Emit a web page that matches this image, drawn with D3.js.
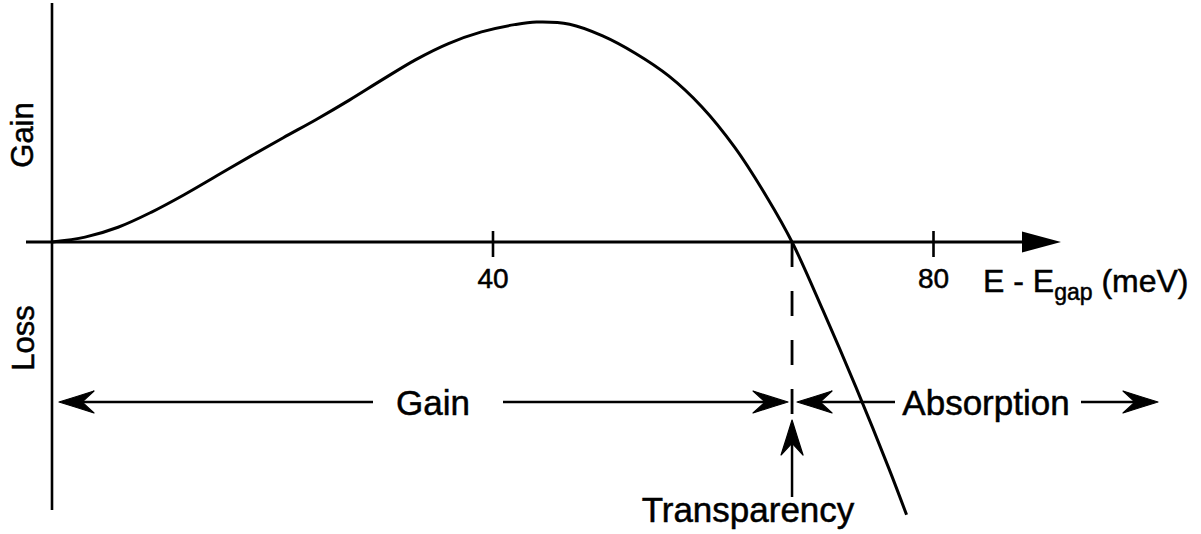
<!DOCTYPE html>
<html>
<head>
<meta charset="utf-8">
<script src="https://cdn.jsdelivr.net/npm/d3@7"></script>
<style>
  html, body { margin: 0; padding: 0; background: #fff; }
  svg { display: block; }
  text { font-family: "Liberation Sans", Arial, Helvetica, sans-serif; fill: #000; stroke: #000; stroke-width: 0.5px; }
</style>
</head>
<body>
<svg id="chart" width="1201" height="534"></svg>
<script>
// Gain spectrum vs photon energy above the band gap (arbitrary gain units, peak = 1)
const energy = [0, 3, 6, 9, 12, 15, 18, 21, 24, 27, 30, 33, 36, 39, 42, 44, 47, 50, 53, 56, 59, 62, 65, 67.2, 70, 73, 76, 77.6];
const gain   = [0, 0.022, 0.067, 0.135, 0.215, 0.302, 0.389, 0.474, 0.557, 0.645, 0.738, 0.828, 0.902, 0.955, 0.988, 1.0, 0.99, 0.937, 0.857, 0.755, 0.615, 0.43, 0.197, 0, -0.31, -0.66, -1.03, -1.24];
const tickValues = [40, 80];
const tickLabels = ["40", "80"];
const transparencyEnergy = 67.2;
const sideLabels = ["Gain", "Loss"];
const regionLabels = ["Gain", "Absorption", "Transparency"];

const svg = d3.select("#chart");
const x = d3.scaleLinear().domain([0, 80]).range([52, 933]);
const y = d3.scaleLinear().domain([0, 1]).range([242, 22]);

const ink = "#000";

// Vertical axis
svg.append("line")
  .attr("x1", x(0)).attr("x2", x(0))
  .attr("y1", 3).attr("y2", 510)
  .attr("stroke", ink).attr("stroke-width", 2.6);

// Horizontal axis with filled arrow head
const axisEnd = 1061;
svg.append("line")
  .attr("x1", 26).attr("x2", axisEnd - 30)
  .attr("y1", y(0)).attr("y2", y(0))
  .attr("stroke", ink).attr("stroke-width", 2.8);
svg.append("path")
  .attr("d", `M${axisEnd},${y(0)} L${axisEnd - 39},${y(0) - 10.5} L${axisEnd - 39},${y(0) + 10.5} Z`)
  .attr("fill", ink);

// Tick marks and labels
const xAxis = d3.axisBottom(x)
  .tickValues(tickValues)
  .tickFormat((d, i) => tickLabels[i])
  .tickSizeInner(15)
  .tickSizeOuter(0)
  .tickPadding(20);
const gAxis = svg.append("g").attr("transform", `translate(0,${y(0)})`).call(xAxis);
gAxis.select(".domain").remove();
gAxis.selectAll(".tick line")
  .attr("y1", -11)
  .attr("stroke", ink).attr("stroke-width", 2.6);
gAxis.selectAll(".tick text")
  .attr("font-size", 28)
  .attr("dy", null)
  .attr("y", 46)
  .attr("fill", ink)
  .style("font-family", "'Liberation Sans', Arial, Helvetica, sans-serif");

// Axis title: E - E_gap (meV)
const title = svg.append("text")
  .attr("x", 983).attr("y", 292)
  .attr("font-size", 32);
title.append("tspan").text("E - E");
title.append("tspan").attr("font-size", 23).attr("dy", 8).text("gap");
title.append("tspan").attr("dy", -8).text(" (meV)");

// Side labels
svg.append("text")
  .attr("transform", "translate(33,135) rotate(-90)")
  .attr("text-anchor", "middle").attr("font-size", 31)
  .text(sideLabels[0]);
svg.append("text")
  .attr("transform", "translate(34,338) rotate(-90)")
  .attr("text-anchor", "middle").attr("font-size", 31)
  .text(sideLabels[1]);

// Gain curve
const line = d3.line()
  .x((d, i) => x(energy[i]))
  .y((d, i) => y(gain[i]))
  .curve(d3.curveCatmullRom.alpha(0.5));
svg.append("path")
  .datum(energy)
  .attr("d", line)
  .attr("fill", "none")
  .attr("stroke", ink)
  .attr("stroke-width", 3)
  .attr("stroke-linejoin", "round");

// Transparency marker (dashed)
const xt = x(transparencyEnergy);
svg.append("line")
  .attr("x1", xt).attr("x2", xt)
  .attr("y1", y(0)).attr("y2", 414)
  .attr("stroke", ink).attr("stroke-width", 2.8)
  .attr("stroke-dasharray", "25,24");

// Barbed arrow head, drawn pointing along +x with its tip at the origin
const headPath = "M0,0 Q-18,-5.5 -35,-11 L-23,0 L-35,11 Q-18,5.5 0,0 Z";
function arrowHead(px, py, angle) {
  svg.append("path")
    .attr("d", headPath)
    .attr("transform", `translate(${px},${py}) rotate(${angle})`)
    .attr("fill", ink)
    .attr("stroke", ink).attr("stroke-width", 1.2).attr("stroke-linejoin", "round");
}
function shaft(x1, y1, x2, y2) {
  svg.append("line")
    .attr("x1", x1).attr("y1", y1).attr("x2", x2).attr("y2", y2)
    .attr("stroke", ink).attr("stroke-width", 2.5);
}

const ya = 402;
// Gain region arrow
shaft(75, ya, 373, ya);
arrowHead(59, ya, 180);
svg.append("text").attr("x", 433).attr("y", 415)
  .attr("text-anchor", "middle").attr("font-size", 35).text(regionLabels[0]);
shaft(503, ya, 770, ya);
arrowHead(xt - 4, ya, 0);

// Absorption region arrow
arrowHead(xt + 5, ya, 180);
shaft(820, ya, 895, ya);
svg.append("text").attr("x", 986).attr("y", 415)
  .attr("text-anchor", "middle").attr("font-size", 35).text(regionLabels[1]);
shaft(1081, ya, 1140, ya);
arrowHead(1158, ya, 0);

// Transparency pointer
shaft(xt, 440, xt, 497);
arrowHead(xt, 420, -90);
svg.append("text").attr("x", 748).attr("y", 522)
  .attr("text-anchor", "middle").attr("font-size", 35).text(regionLabels[2]);
</script>
</body>
</html>
